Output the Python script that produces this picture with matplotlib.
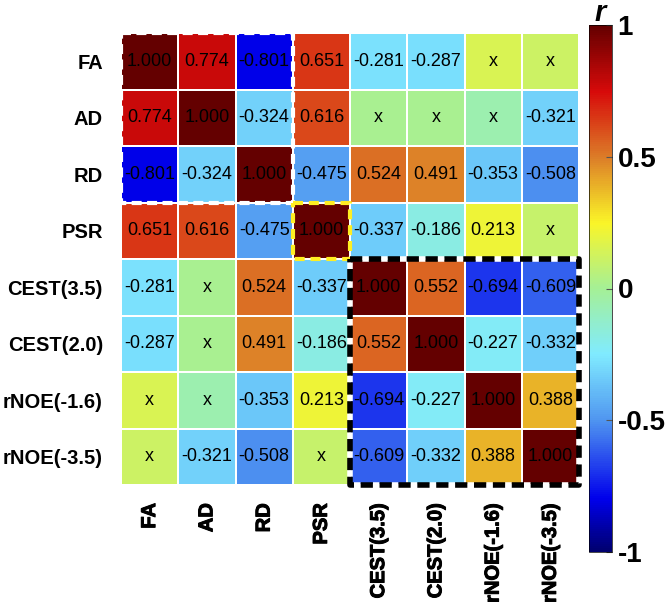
import numpy as np
import matplotlib
matplotlib.use('Agg')
import matplotlib.pyplot as plt
import matplotlib.patheffects as pe
from matplotlib.colors import LinearSegmentedColormap

# ---------------- data ----------------
labels = ['FA', 'AD', 'RD', 'PSR', 'CEST(3.5)', 'CEST(2.0)', 'rNOE(-1.6)', 'rNOE(-3.5)']

r_FA     = [1.000, 0.774, -0.801, 0.651, -0.281, -0.287, 0.15, 0.11]
r_AD     = [0.774, 1.000, -0.324, 0.616, 0.01, 0.01, -0.06, -0.321]
r_RD     = [-0.801, -0.324, 1.000, -0.475, 0.524, 0.491, -0.353, -0.508]
r_PSR    = [0.651, 0.616, -0.475, 1.000, -0.337, -0.186, 0.213, 0.10]
r_CEST35 = [-0.281, 0.01, 0.524, -0.337, 1.000, 0.552, -0.694, -0.609]
r_CEST20 = [-0.287, 0.01, 0.491, -0.186, 0.552, 1.000, -0.227, -0.332]
r_NOE16  = [0.15, -0.06, -0.353, 0.213, -0.694, -0.227, 1.000, 0.388]
r_NOE35  = [0.11, -0.321, -0.508, 0.10, -0.609, -0.332, 0.388, 1.000]

# 1 = significant (value shown), 0 = not significant (shown as "x")
sig_FA     = [1, 1, 1, 1, 1, 1, 0, 0]
sig_AD     = [1, 1, 1, 1, 0, 0, 0, 1]
sig_RD     = [1, 1, 1, 1, 1, 1, 1, 1]
sig_PSR    = [1, 1, 1, 1, 1, 1, 1, 0]
sig_CEST35 = [1, 0, 1, 1, 1, 1, 1, 1]
sig_CEST20 = [1, 0, 1, 1, 1, 1, 1, 1]
sig_NOE16  = [0, 0, 1, 1, 1, 1, 1, 1]
sig_NOE35  = [0, 1, 1, 0, 1, 1, 1, 1]

cbar_ticks = [-1, -0.5, 0, 0.5, 1]
cbar_ticklabels = ['-1', '-0.5', '0', '0.5', '1']

# colormap anchors (value, rgb)
cmap_vals = [-1.0, -0.8, -0.5, -0.25, 0.0, 0.25, 0.5, 0.75, 1.0]
cmap_cols = [(0, 0, 110), (0, 0, 235), (80, 150, 240), (128, 235, 255),
             (165, 240, 150), (250, 245, 40), (220, 125, 40), (215, 10, 10),
             (100, 0, 0)]

R = np.array([r_FA, r_AD, r_RD, r_PSR, r_CEST35, r_CEST20, r_NOE16, r_NOE35])
S = np.array([sig_FA, sig_AD, sig_RD, sig_PSR, sig_CEST35, sig_CEST20, sig_NOE16, sig_NOE35])
n = len(labels)

plt.rcParams['font.family'] = ['Liberation Sans', 'DejaVu Sans']

cmap = LinearSegmentedColormap.from_list(
    'rjet', [((v + 1) / 2, tuple(c / 255 for c in col)) for v, col in zip(cmap_vals, cmap_cols)])

fig = plt.figure(figsize=(6.69, 6.02), dpi=100)
W, H = 669, 602
ax = fig.add_axes([121 / W, 1 - 485 / H, 458 / W, 452 / H])

mesh = ax.pcolormesh(np.arange(n + 1), np.arange(n + 1), R, cmap=cmap, vmin=-1, vmax=1,
                     edgecolors='white', linewidth=1.2)
ax.set_xlim(0, n)
ax.set_ylim(n, 0)

for i in range(n):
    for j in range(n):
        txt = f'{R[i, j]:.3f}' if S[i, j] else 'x'
        ax.text(j + 0.5, i + 0.5, txt, ha='center', va='center', fontsize=13, color='black')

ax.set_xticks(np.arange(n) + 0.5)
ax.set_yticks(np.arange(n) + 0.5)
ax.set_xticklabels(labels, rotation=90)
ax.set_yticklabels(labels)
for t in ax.get_xticklabels() + ax.get_yticklabels():
    t.set_fontweight('bold')
    t.set_fontsize(14.5)
for t in ax.get_xticklabels():
    t.set_path_effects([pe.withStroke(linewidth=0.7, foreground='black')])
ax.tick_params(length=0, pad=13)
for s in ax.spines.values():
    s.set_visible(False)


def box(r0, r1, c0, c1, color, lw, dashes, gapcolor=None, z=5):
    xs = [c0, c1, c1, c0, c0]
    ys = [r0, r0, r1, r1, r0]
    kw = dict(color=color, lw=lw, linestyle=(0, dashes), clip_on=False, zorder=z,
              dash_capstyle='butt')
    if gapcolor is not None:
        kw['gapcolor'] = gapcolor
    ax.plot(xs, ys, **kw)


box(0, 3, 0, 3, 'white', 3.0, (2.4, 1.3))
box(3, 4, 3, 4, '#ffee22', 3.0, (2.4, 1.4))
box(4, 8, 4, 8, 'black', 4.0, (2.2, 1.2), gapcolor='white')

cax = fig.add_axes([589 / W, 1 - 552 / H, 23 / W, 527 / H])
cb = fig.colorbar(mesh, cax=cax, ticks=cbar_ticks)
cb.ax.set_yticklabels(cbar_ticklabels, fontweight='bold', fontsize=20)
cb.ax.tick_params(direction='in', length=4, width=0.8, pad=4, color='#555555')
cb.outline.set_linewidth(0.5)
fig.text(600 / W, 1 - 21 / H, 'r', ha='center', va='baseline', fontsize=21,
         fontweight='bold', fontstyle='italic')

fig.savefig('out.png', dpi=100)
